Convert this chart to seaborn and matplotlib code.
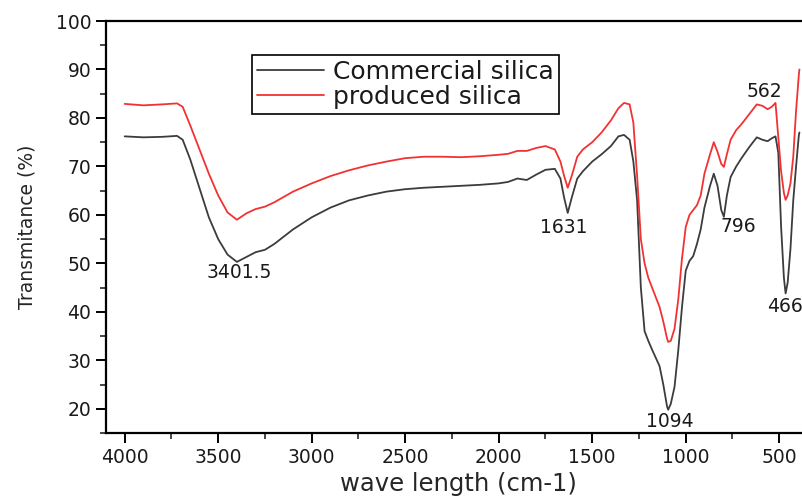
import numpy as np
import pandas as pd
import matplotlib
matplotlib.use("Agg")
import matplotlib.pyplot as plt
from matplotlib.ticker import MultipleLocator
import seaborn as sns

wavenumber = [4000, 3900, 3800, 3720, 3690, 3650, 3600, 3550, 3500, 3450, 3400, 3350, 3300, 3250,
              3200, 3100, 3000, 2900, 2800, 2700, 2600, 2500, 2400, 2300, 2200, 2100, 2000, 1950,
              1900, 1850, 1800, 1750, 1700, 1670, 1650, 1631, 1610, 1580, 1550, 1500, 1450, 1400,
              1360, 1330, 1300, 1280, 1260, 1240, 1220, 1200, 1180, 1160, 1140, 1120, 1100, 1094,
              1080, 1060, 1040, 1020, 1000, 980, 960, 940, 920, 900, 870, 850, 830, 810, 796, 780,
              760, 730, 700, 660, 620, 590, 562, 540, 520, 505, 490, 475, 466, 455, 440, 425, 410,
              395, 392]

commercial = [76.2, 76.0, 76.1, 76.3, 75.5, 71.5, 65.5, 59.5, 55.0, 51.8, 50.3, 51.3, 52.3, 52.8,
              54.0, 57.0, 59.5, 61.5, 63.0, 64.0, 64.8, 65.3, 65.6, 65.8, 66.0, 66.2, 66.5, 66.8,
              67.5, 67.2, 68.3, 69.3, 69.5, 67.5, 63.5, 60.4, 63.5, 67.5, 69.0, 71.0, 72.5, 74.2,
              76.2, 76.5, 75.5, 71.0, 63.0, 45.0, 36.0, 34.0, 32.2, 30.5, 28.8, 25.0, 20.5, 19.8,
              21.0, 24.5, 32.0, 41.0, 48.5, 50.5, 51.5, 54.0, 57.0, 61.5, 66.0, 68.5, 66.0, 61.0,
              59.6, 64.0, 67.8, 70.0, 71.8, 74.0, 76.0, 75.5, 75.2, 75.8, 76.2, 72.8, 57.5, 47.0,
              43.8, 46.0, 53.0, 63.0, 70.0, 76.5, 77.0]

produced = [82.9, 82.6, 82.8, 83.0, 82.3, 78.5, 73.5, 68.5, 64.0, 60.5, 59.0, 60.3, 61.2, 61.7,
            62.6, 64.8, 66.5, 68.0, 69.2, 70.2, 71.0, 71.7, 72.0, 72.0, 71.9, 72.1, 72.4, 72.6,
            73.2, 73.2, 73.8, 74.2, 73.5, 71.0, 68.0, 65.6, 68.0, 72.0, 73.5, 75.0, 77.0, 79.5,
            82.0, 83.1, 82.8, 79.0, 68.0, 55.0, 50.0, 47.0, 45.0, 43.0, 41.0, 38.0, 34.5, 33.8,
            34.0, 36.5, 42.5, 51.0, 57.5, 60.0, 61.0, 62.0, 64.0, 68.5, 72.5, 75.0, 73.0, 70.5,
            69.9, 72.5, 75.5, 77.5, 78.8, 80.8, 82.8, 82.5, 81.8, 82.3, 83.1, 76.0, 69.0, 64.5,
            63.1, 64.0, 66.5, 72.0, 81.5, 89.0, 90.0]

series_names = ["Commercial silica", "produced silica"]
series_colors = ["#3c3c3c", "#f23232"]

peak_labels = ["3401.5", "1631", "1094", "796", "562", "466"]
label_x = [3390, 1650, 1083, 721, 580, 472]
label_y = [48.2, 57.3, 17.3, 57.7, 85.4, 41.2]

sns.set_style("ticks")
plt.rcParams["font.family"] = ["DejaVu Sans"]
plt.rcParams["text.color"] = "#1a1a1a"

df = pd.DataFrame({
    "wavenumber": wavenumber * 2,
    "transmittance": commercial + produced,
    "series": [series_names[0]] * len(wavenumber) + [series_names[1]] * len(wavenumber),
})

fig = plt.figure(figsize=(8.03, 4.98), dpi=100)
ax = fig.add_axes([106 / 803, 1 - 433 / 498, (803 - 106) / 803 + 0.01, (433 - 21) / 498])

sns.lineplot(data=df, x="wavenumber", y="transmittance", hue="series", sort=False,
             palette=dict(zip(series_names, series_colors)), linewidth=1.3, ax=ax, estimator=None)

ax.set_xlim(4100, 330)
ax.set_ylim(15, 100)
ax.xaxis.set_minor_locator(MultipleLocator(250))
ax.yaxis.set_minor_locator(MultipleLocator(5))
ax.set_yticks([20, 30, 40, 50, 60, 70, 80, 90, 100])
ax.set_xticks([4000, 3500, 3000, 2500, 2000, 1500, 1000, 500])

for s in ["left", "bottom", "top"]:
    ax.spines[s].set_linewidth(1.6)
    ax.spines[s].set_color("black")
ax.spines["right"].set_visible(False)

ax.tick_params(axis="both", which="major", direction="out", length=7, width=1.4,
               labelsize=13.5, colors="black", labelcolor="#1a1a1a", top=False, right=False)
ax.tick_params(axis="both", which="minor", direction="out", length=4, width=1.2,
               top=False, right=False)

ax.set_xlabel("wave length (cm-1)", fontsize=17.5, labelpad=4)
ax.set_ylabel("Transmitance (%)", fontsize=13.5, labelpad=14)

for lab, px, py in zip(peak_labels, label_x, label_y):
    ax.text(px, py, lab, fontsize=13.5, ha="center", va="center", color="#1a1a1a")

handles, labels = ax.get_legend_handles_labels()
leg = ax.legend(handles, labels, loc="upper left", bbox_to_anchor=(0.2066, 0.9175),
                borderaxespad=0, fontsize=18, frameon=True, fancybox=False,
                handlelength=2.7, handletextpad=0.35, borderpad=0.2, labelspacing=0.05)
leg.get_frame().set_edgecolor("black")
leg.get_frame().set_linewidth(1.2)
leg.get_frame().set_alpha(1)

fig.savefig("out.png", dpi=100)
